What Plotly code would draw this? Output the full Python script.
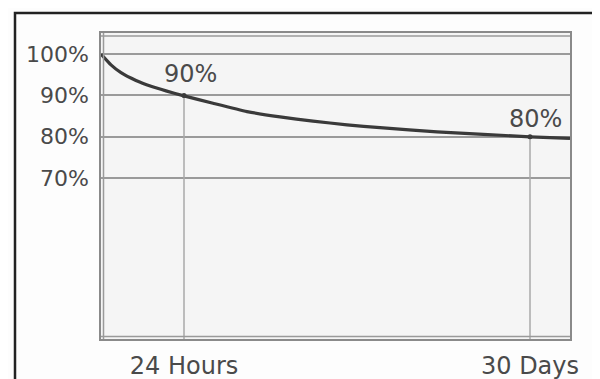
import plotly.graph_objects as go

# Curve: horizontal position (arbitrary time scale units) and capacity in %
curve_x = [0, 10, 20, 35, 50, 65, 83, 112, 146, 179, 212, 246, 279, 336, 429, 469]
curve_y = [100, 97.4, 95.5, 93.6, 92.2, 91.1, 89.9, 88.1, 86.1, 84.8, 83.8, 82.9, 82.2, 81.2, 80.0, 79.6]

# Marked points
mark_x = [83, 429]
mark_y = [90, 80]
mark_labels = ["90%", "80%"]

# Axis ticks
x_tick_vals = [83, 429]
x_tick_text = ["24 Hours", "30 Days"]
y_tick_vals = [70, 80, 90, 100]
y_tick_text = ["70%", "80%", "90%", "100%"]

x_range = [0, 469]
y_range = [31.1, 105.1]

GRID = "#9a9a9a"
TEXT = "#4a4a4a"
FONT = "DejaVu Sans"

# figure geometry (the page adds an 8px body margin)
W, H = 592, 371
ML, MT, PW, PH = 93, 25, 469, 306

fig = go.Figure()

# drop lines from the marked points to the bottom
for mx, my in zip(mark_x, mark_y):
    fig.add_trace(go.Scatter(x=[mx, mx], y=[my, y_range[0]], mode="lines",
                             line=dict(color="#a8a8a8", width=1.5),
                             hoverinfo="skip", showlegend=False))

fig.add_trace(go.Scatter(x=curve_x, y=curve_y, mode="lines",
                         line=dict(color="#3a3a3a", width=3.2, shape="spline", smoothing=0.5),
                         showlegend=False))
fig.add_trace(go.Scatter(x=mark_x, y=mark_y, mode="markers",
                         marker=dict(color="#3a3a3a", size=5),
                         showlegend=False))

shifts = [(6, 21), (5, 18)]
for mx, my, lab, (dx, dy) in zip(mark_x, mark_y, mark_labels, shifts):
    fig.add_annotation(x=mx, y=my, text=lab, showarrow=False,
                       xanchor="center", yanchor="middle",
                       xshift=dx, yshift=dy,
                       font=dict(family=FONT, size=24, color=TEXT))

# inner double lines (left, top, bottom)
fig.add_shape(type="line", xref="x", yref="paper", x0=2.5, x1=2.5, y0=0, y1=1,
              line=dict(color=GRID, width=1.5))
fig.add_shape(type="line", xref="paper", yref="y", x0=0, x1=1, y0=104.4, y1=104.4,
              line=dict(color=GRID, width=1.5))
fig.add_shape(type="line", xref="paper", yref="y", x0=0, x1=1, y0=31.7, y1=31.7,
              line=dict(color=GRID, width=1.5))

# outer frame of the picture
fig.add_shape(type="rect", xref="paper", yref="paper",
              x0=(7 - ML) / PW, x1=(586 - ML) / PW,
              y0=(MT + PH - 390) / PH, y1=(MT + PH - 5) / PH,
              line=dict(color="#222222", width=2.5), layer="above")

fig.update_layout(
    width=W, height=H,
    margin=dict(l=ML, r=W - ML - PW, t=MT, b=H - MT - PH),
    paper_bgcolor="#fdfdfd",
    plot_bgcolor="#f5f5f5",
    showlegend=False,
    xaxis=dict(range=x_range, tickvals=x_tick_vals, ticktext=x_tick_text,
               showgrid=False, zeroline=False, showline=True, mirror=True,
               linecolor="#8a8a8a", linewidth=1.5, ticks="", ticklabelstandoff=4,
               automargin=False,
               tickfont=dict(family=FONT, size=24, color=TEXT)),
    yaxis=dict(range=y_range, tickvals=y_tick_vals, ticktext=y_tick_text,
               showgrid=True, gridcolor=GRID, gridwidth=1.5, zeroline=False,
               showline=True, mirror=True, linecolor="#8a8a8a", linewidth=1.5,
               ticks="", ticklabelstandoff=6, automargin=False,
               tickfont=dict(family=FONT, size=22, color=TEXT)),
)

fig.write_html("out.html")
